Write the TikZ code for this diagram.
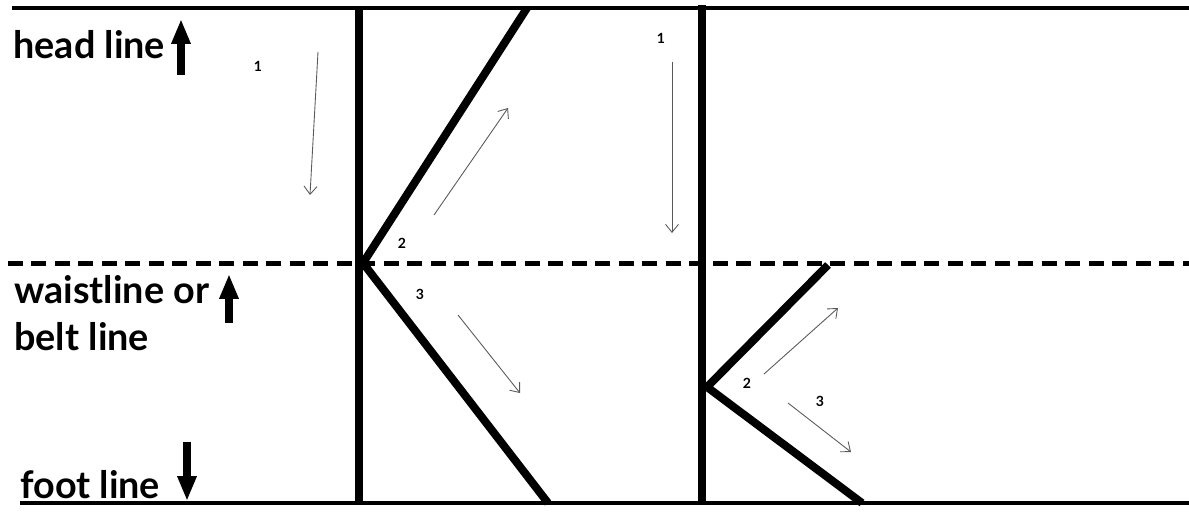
\documentclass[tikz,border=0pt]{standalone}
\usepackage{fontspec}
\setmainfont{Lato}
\usetikzlibrary{arrows.meta}

\tikzset{
  guide/.style={line width=0.08cm},
  bar/.style={line width=0.16cm},
  waist/.style={line width=0.1cm, dash pattern=on 0.3cm off 0.17cm},
  flow/.style={gray!70!black, line width=0.5pt, -{Straight Barb[length=0.16cm,width=0.26cm]}},
  movearrow/.style={line width=0.17cm, -{Triangle[length=0.5cm,width=0.36cm]}},
  lbl/.style={font=\bfseries\fontsize{21.5}{26}\selectfont, anchor=west, inner sep=0pt},
  num/.style={font=\bfseries\fontsize{8}{9}\selectfont, inner sep=0pt},
}

\begin{document}
\begin{tikzpicture}[x=0.02cm, y=-0.02cm]
  \useasboundingbox (0,0) rectangle (1189,513);

  % reference lines
  \coordinate (headL) at (12,8);   \coordinate (headR) at (1189,8);
  \coordinate (waistL) at (8,263); \coordinate (waistR) at (1189,263);
  \coordinate (footL) at (20,503); \coordinate (footR) at (1189,503);
  \draw[guide] (headL) -- (headR);
  \draw[guide] (footL) -- (footR);
  \draw[waist] (waistL) -- (waistR);

  % centre lines
  \coordinate (cA) at (359,8);  \coordinate (cAb) at (359,503);
  \coordinate (cB) at (702,5);  \coordinate (cBb) at (702,503);
  \draw[bar] (cA) -- (cAb);
  \draw[bar] (cB) -- (cBb);

  % the two K shapes
  \coordinate (kA1) at (527,8);   \coordinate (kA2) at (363,263); \coordinate (kA3) at (548,503);
  \coordinate (kB1) at (828,265); \coordinate (kB2) at (707,387); \coordinate (kB3) at (862,503);
  \draw[bar, line join=round] (kA1) -- (kA2) -- (kA3);
  \draw[bar, line join=round] (kB1) -- (kB2) -- (kB3);

  % thin direction arrows
  \foreach \n/\x/\y in {fA1/318/52, tA1/310/195, fA2/434/215, tA2/508/108,
                        fA3/458/315, tA3/520/393, fB1/672/62, tB1/672/233,
                        fB2/764/374, tB2/838/308, fB3/788/403, tB3/851/452} {
    \coordinate (\n) at (\x,\y);
  }
  \foreach \s in {A1,A2,A3,B1,B2,B3} {
    \draw[flow] (f\s) -- (t\s);
  }

  % step numbers
  \node[num] (nA1) at (258,66) {1};
  \node[num] (nA2) at (402,243) {2};
  \node[num] (nA3) at (420,294) {3};
  \node[num] (nB1) at (661,38) {1};
  \node[num] (nB2) at (747,383) {2};
  \node[num] (nB3) at (820,401) {3};

  % labels
  \node[lbl] (head) at (13,45) {head line};
  \node[lbl] (waist) at (14,290) {waistline or};
  \node[lbl] (belt) at (14,337) {belt line};
  \node[lbl] (foot) at (20,485) {foot line};

  % bold arrows
  \coordinate (hs) at (181,75);  \coordinate (he) at (181,19);
  \coordinate (ws) at (229,323); \coordinate (we) at (229,274);
  \coordinate (fs) at (187,442); \coordinate (fe) at (187,501);
  \draw[movearrow] (hs) -- (he);
  \draw[movearrow] (ws) -- (we);
  \draw[movearrow] (fs) -- (fe);
\end{tikzpicture}
\end{document}
